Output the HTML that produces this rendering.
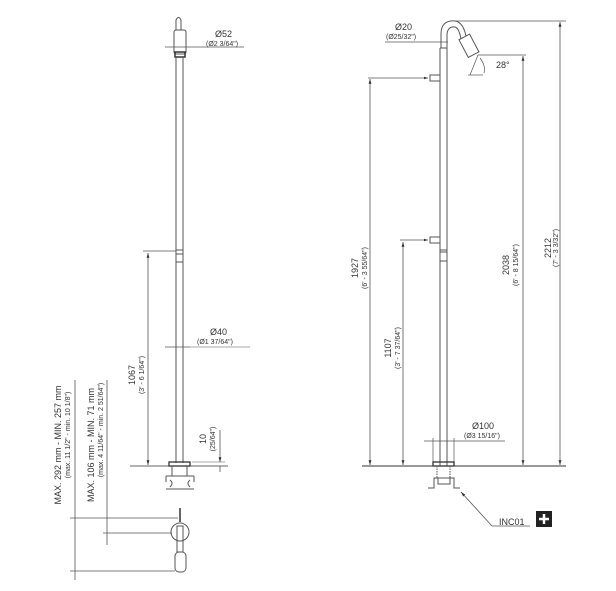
<!DOCTYPE html>
<html><head><meta charset="utf-8"><style>
html,body{margin:0;padding:0;background:#fff;}
svg{display:block;font-family:"Liberation Sans",sans-serif;}
</style></head><body>
<svg width="616" height="591" viewBox="0 0 616 591" xmlns="http://www.w3.org/2000/svg">
<defs>
<marker id="a" viewBox="0 0 10 10" refX="10" refY="5" markerWidth="6" markerHeight="6" orient="auto-start-reverse"><path d="M0,2 L10,5 L0,8 z" fill="#333"/></marker>
</defs>
<g stroke="#555" stroke-width="1" fill="none">
<path d="M176,30 V20 Q178.5,15 181,20 V30"/>
<rect x="174" y="30" width="12" height="24" rx="2"/>
<rect x="175" y="52" width="10" height="5" stroke="#333" stroke-width="1.5"/>
<line x1="176" y1="57" x2="176" y2="463"/>
<line x1="183" y1="57" x2="183" y2="463"/>
<line x1="176" y1="250" x2="183" y2="250"/>
<line x1="176" y1="254" x2="183" y2="254"/>
<line x1="176" y1="262" x2="183" y2="262"/>
<line x1="165" y1="47" x2="244" y2="47" stroke-width="0.8"/>
<line x1="165" y1="347" x2="190" y2="347" stroke-width="0.8"/>
<line x1="190" y1="347" x2="250" y2="347" stroke-width="0.6"/>
<line x1="143" y1="251" x2="176" y2="251" stroke-width="0.7"/>
<line x1="148" y1="253" x2="148" y2="465" stroke-width="0.8" marker-start="url(#a)" marker-end="url(#a)"/>
<line x1="130" y1="466" x2="228" y2="466" stroke-width="0.8" stroke="#333"/>
<rect x="169" y="462" width="21" height="4" stroke="#333" stroke-width="1.3"/>
<line x1="172" y1="466" x2="172" y2="476"/><line x1="187" y1="466" x2="187" y2="476"/>
<path d="M166,476 H194 M166,476 V482 M194,476 V482 M166,489 H194 M170,480 Q174,483 170,487 M190,480 Q186,483 190,487"/>
<line x1="192" y1="462" x2="225" y2="462" stroke-width="0.6"/>
<line x1="220" y1="430" x2="220" y2="462" stroke-width="0.8" marker-end="url(#a)"/>
<line x1="220" y1="466" x2="220" y2="472" stroke-width="0.8"/>
<line x1="180" y1="508" x2="180" y2="522" stroke="#333" stroke-width="1.5"/>
<circle cx="180" cy="532" r="9"/>
<rect x="177" y="526" width="6" height="26"/>
<rect x="175" y="552" width="11" height="20" rx="4"/>
<line x1="70" y1="518" x2="178" y2="518" stroke-width="0.7"/>
<line x1="103" y1="533" x2="172" y2="533" stroke-width="0.7"/>
<line x1="70" y1="571" x2="175" y2="571" stroke-width="0.7"/>
<line x1="75" y1="380" x2="75" y2="580" stroke-width="0.8"/>
<line x1="107" y1="380" x2="107" y2="545" stroke-width="0.8"/>
<line x1="440" y1="48" x2="440" y2="466"/>
<line x1="447" y1="48" x2="447" y2="466"/>
<line x1="440" y1="48" x2="447" y2="48"/>
<path d="M441,48 V34 Q441,20 455,21 Q463,22 466,36" />
<path d="M447,48 V34 Q448,26 455,27 Q459,28 461,39"/>
<g transform="translate(468,44) rotate(-28)"><rect x="-6" y="-8" width="12" height="20"/></g>
<line x1="455" y1="21" x2="566" y2="21" stroke-width="0.7"/>
<line x1="560" y1="22" x2="560" y2="465" stroke-width="0.8" marker-start="url(#a)" marker-end="url(#a)"/>
<line x1="478" y1="55" x2="526" y2="55" stroke-width="0.7"/>
<line x1="523" y1="56" x2="523" y2="465" stroke-width="0.8" marker-start="url(#a)" marker-end="url(#a)"/>
<line x1="478" y1="55" x2="470" y2="75" stroke-width="0.7"/>
<line x1="468" y1="75" x2="483" y2="75" stroke-width="0.7"/>
<path d="M480,58 Q486,66 484,73" stroke-width="0.7"/>
<line x1="385" y1="42" x2="448" y2="42" stroke-width="0.8"/>
<rect x="430" y="75" width="10" height="6"/>
<line x1="368" y1="78" x2="428" y2="78" stroke-width="0.7" marker-end="url(#a)"/>
<line x1="370" y1="79" x2="370" y2="465" stroke-width="0.8" marker-start="url(#a)" marker-end="url(#a)"/>
<rect x="430" y="237" width="10" height="6"/>
<line x1="400" y1="240" x2="428" y2="240" stroke-width="0.7" marker-end="url(#a)"/>
<line x1="403" y1="242" x2="403" y2="465" stroke-width="0.8" marker-start="url(#a)" marker-end="url(#a)"/>
<line x1="440" y1="250" x2="447" y2="250"/><line x1="440" y1="252" x2="447" y2="252"/><line x1="440" y1="261" x2="447" y2="261"/>
<line x1="424" y1="441" x2="505" y2="441" stroke-width="0.8"/>
<line x1="433" y1="438" x2="433" y2="462" stroke-width="0.7"/><line x1="454" y1="438" x2="454" y2="462" stroke-width="0.7"/>
<line x1="362" y1="466" x2="566" y2="466" stroke="#333" stroke-width="0.9"/>
<rect x="433" y="462" width="21" height="4" stroke="#333" stroke-width="1.3"/>
<line x1="437" y1="466" x2="437" y2="478" stroke-dasharray="1.5 1"/><line x1="450" y1="466" x2="450" y2="478" stroke-dasharray="1.5 1"/>
<path d="M428,488 H434 V478 H454 V488 H460 M438,478 V484 H450 V478"/>
<line x1="461" y1="492" x2="492" y2="526" stroke-width="0.8" marker-start="url(#a)"/>
<line x1="492" y1="526" x2="530" y2="526" stroke-width="0.8"/>
</g>
<g fill="#333" font-size="9">
<text x="215" y="37">Ø52</text>
<text x="206" y="46" font-size="7">(Ø2 3/64")</text>
<text x="210" y="335">Ø40</text>
<text x="197" y="344" font-size="7">(Ø1 37/64")</text>
<text transform="translate(135,375) rotate(-90)" text-anchor="middle">1067</text>
<text transform="translate(144,375) rotate(-90)" text-anchor="middle" font-size="7">(3' - 6 1/64")</text>
<text transform="translate(206,439) rotate(-90)" text-anchor="middle">10</text>
<text transform="translate(215,439) rotate(-90)" text-anchor="middle" font-size="7">(25/64")</text>
<text transform="translate(61,445) rotate(-90)" text-anchor="middle">MAX. 292 mm - MIN. 257 mm</text>
<text transform="translate(70,435) rotate(-90)" text-anchor="middle" font-size="7">(max. 11 1/2" - min. 10 1/8")</text>
<text transform="translate(94,445) rotate(-90)" text-anchor="middle">MAX. 106 mm - MIN. 71 mm</text>
<text transform="translate(103,430) rotate(-90)" text-anchor="middle" font-size="7">(max. 4 11/64" - min. 2 51/64")</text>
<text x="395" y="30">Ø20</text>
<text x="386" y="39" font-size="7">(Ø25/32")</text>
<text x="496" y="68">28°</text>
<text transform="translate(358,268) rotate(-90)" text-anchor="middle">1927</text>
<text transform="translate(367,268) rotate(-90)" text-anchor="middle" font-size="7">(6' - 3 55/64")</text>
<text transform="translate(391,348) rotate(-90)" text-anchor="middle">1107</text>
<text transform="translate(400,348) rotate(-90)" text-anchor="middle" font-size="7">(3' - 7 37/64")</text>
<text transform="translate(509,265) rotate(-90)" text-anchor="middle">2038</text>
<text transform="translate(518,265) rotate(-90)" text-anchor="middle" font-size="7">(6' - 8 15/64")</text>
<text transform="translate(551,248) rotate(-90)" text-anchor="middle">2212</text>
<text transform="translate(558,248) rotate(-90)" text-anchor="middle" font-size="7">(7' - 3 3/32")</text>
<text x="472" y="429">Ø100</text>
<text x="464" y="438" font-size="7">(Ø3 15/16")</text>
<text x="499" y="525">INC01</text>
</g>
<rect x="536" y="511" width="16" height="16" fill="#222"/>
<path d="M544,514 V524 M539,519 H549" stroke="#fff" stroke-width="2.5"/>
</svg>
</body></html>
